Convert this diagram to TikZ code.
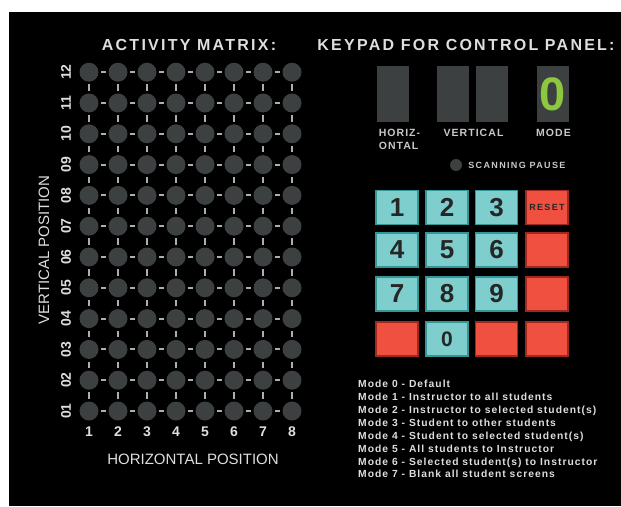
\documentclass[tikz,border=0pt]{standalone}
\usepackage{fontspec}
\setmainfont{Liberation Sans}
\usetikzlibrary{positioning}
\definecolor{Dot}{RGB}{61,64,64}
\definecolor{Link}{RGB}{172,175,175}
\definecolor{Label}{RGB}{222,222,222}
\definecolor{KeyTeal}{RGB}{126,206,205}
\definecolor{KeyTealEdge}{RGB}{52,150,150}
\definecolor{KeyRed}{RGB}{240,80,64}
\definecolor{KeyRedEdge}{RGB}{160,40,30}
\definecolor{ModeGreen}{RGB}{141,198,63}
\newcommand{\track}[1]{\addfontfeatures{LetterSpace=#1}}

\begin{document}
\begin{tikzpicture}[x=1pt,y=-1pt,
  dot/.style={circle,fill=Dot,minimum size=19pt,inner sep=0pt},
  link/.style={draw=Link,line width=2pt,shorten <=2.5pt,shorten >=2.5pt},
  title/.style={text=Label,font=\bfseries\fontsize{16}{16}\selectfont\track{14}},
  axis/.style={text=Label,font=\fontsize{15}{15}\selectfont},
  poslab/.style={text=Label,font=\bfseries\fontsize{14}{14}\selectfont},
  display/.style={fill=Dot,minimum width=32pt,minimum height=56pt,inner sep=0pt},
  disptext/.style={text=Label!90!black,align=left,inner sep=0pt,font=\bfseries\fontsize{10.5}{13}\selectfont\track{10}},
  keyteal/.style={draw=KeyTealEdge,fill=KeyTeal,line width=1.5pt,minimum width=42pt,minimum height=34pt,inner sep=0pt,text=black!85,font=\bfseries\fontsize{26}{26}\selectfont},
  keyred/.style={keyteal,draw=KeyRedEdge,fill=KeyRed},
  modeline/.style={anchor=base west,inner sep=0pt,text=Label,font=\bfseries\fontsize{10.3}{12.9}\selectfont\track{10}}]
  \useasboundingbox (0,0) rectangle (621,506);
  \fill[white] (0,0) rectangle (621,506);
  \fill[black] (9,12) rectangle (621,506);

  % activity matrix
  \node[title] (mtitle) at (189,45) {ACTIVITY MATRIX:};
  \foreach \c in {1,...,8}
    \foreach \r in {1,...,12}
      \node[dot] (d\c-\r) at ({89+29*(\c-1)},{411-30.8*(\r-1)}) {};
  \foreach \c in {1,...,8}
    \foreach \r in {1,...,12} {
      \pgfmathtruncatemacro\cn{\c+1}
      \pgfmathtruncatemacro\rn{\r+1}
      \ifnum\c<8 \draw[link] (d\c-\r) -- (d\cn-\r); \fi
      \ifnum\r<12 \draw[link] (d\c-\r) -- (d\c-\rn); \fi
    }
  \foreach \r/\t in {1/01,2/02,3/03,4/04,5/05,6/06,7/07,8/08,9/09,10/10,11/11,12/12}
    \node[poslab,xshift=-23pt,rotate=90] (v\r) at (d1-\r) {\t};
  \foreach \c in {1,...,8}
    \node[poslab,yshift=-21pt] (h\c) at (d\c-1) {\c};
  \node[axis] (haxis) at (193,459) {HORIZONTAL POSITION};
  \node[axis,rotate=90] (vaxis) at (44,250) {VERTICAL POSITION};

  % keypad
  \node[title] (ktitle) at (466,45) {KEYPAD FOR CONTROL PANEL:};
  \node[display] (dh) at (393,94) {};
  \node[display] (dv1) at (452.5,94) {};
  \node[display] (dv2) at (492,94) {};
  \node[display,text=ModeGreen,font=\bfseries\fontsize{47}{47}\selectfont] (dm) at (552.5,94) {0};
  \node[disptext] (lh) at (399.5,139.5) {HORIZ-\\ONTAL};
  \node[disptext] (lv) at (473.5,133) {VERTICAL};
  \node[disptext] (lm) at (553.5,133) {MODE};
  \node[circle,fill=Dot,minimum size=12pt,inner sep=0pt] (sp) at (456,165) {};
  \node[disptext,font=\bfseries\fontsize{9}{9}\selectfont\track{15},right=6pt of sp] (spt) {SCANNING PAUSE};

  \foreach \k/\x/\y in {1/397/207.5,2/447/207.5,3/496.5/207.5,
                        4/397/250,5/447/250,6/496.5/250,
                        7/397/294,8/447/294,9/496.5/294}
    \node[keyteal] (key\k) at (\x,\y) {\k};
  \node[keyteal,font=\bfseries\fontsize{21}{21}\selectfont] (key0) at (447,339) {0};
  \node[keyred,font=\bfseries\fontsize{9}{9}\selectfont\track{15}] (reset) at (547,207.5) {RESET};
  \node[keyred] (blank1) at (547,250) {};
  \node[keyred] (blank2) at (547,294) {};
  \node[keyred] (blank3) at (397,339) {};
  \node[keyred] (blank4) at (496.5,339) {};
  \node[keyred] (blank5) at (547,339) {};

  % mode list
  \foreach \m/\t in {0/Default,1/Instructor to all students,2/Instructor to selected student(s),
                     3/Student to other students,4/Student to selected student(s),
                     5/All students to Instructor,6/Selected student(s) to Instructor,
                     7/Blank all student screens}
    \node[modeline] (mode\m) at (358,{387.6+12.9*\m}) {Mode \m\ - \t};
\end{tikzpicture}
\end{document}
